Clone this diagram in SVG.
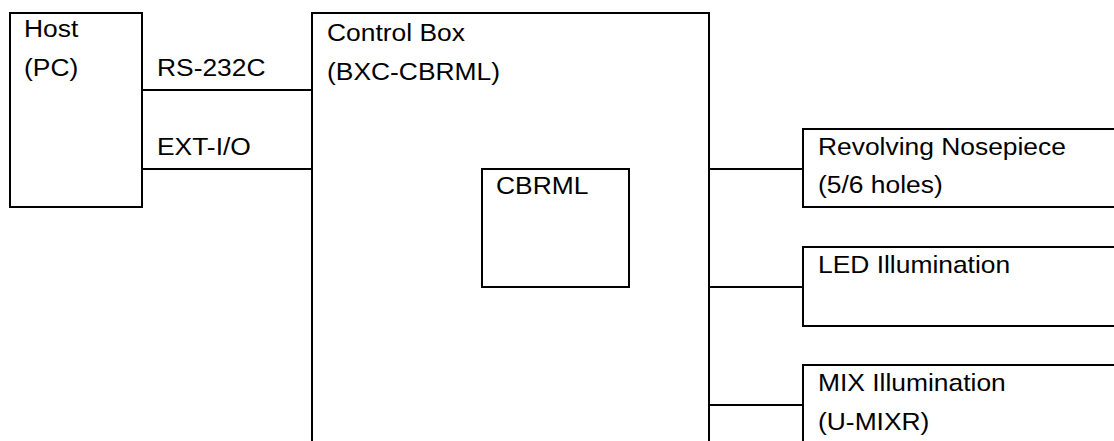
<svg xmlns="http://www.w3.org/2000/svg" width="1114" height="441" viewBox="0 0 1114 441">
  <style>
    .box { fill: #ffffff; stroke: #000000; stroke-width: 2; }
    .wire { fill: none; stroke: #000000; stroke-width: 2; }
    .lbl { font-family: "Liberation Sans", Arial, sans-serif; font-size: 24px; fill: #000000; }
  </style>
  <rect width="1114" height="441" fill="#ffffff"/>

  <g id="connectors">
    <line class="wire" x1="142" y1="90" x2="312" y2="90"/>
    <line class="wire" x1="142" y1="169" x2="312" y2="169"/>
    <line class="wire" x1="709" y1="169" x2="803" y2="169"/>
    <line class="wire" x1="709" y1="287" x2="803" y2="287"/>
    <line class="wire" x1="709" y1="405" x2="803" y2="405"/>
  </g>

  <!-- labels are drawn slightly wide: translate to the baseline, then stretch x -->
  <g id="host">
    <rect class="box" x="10" y="13" width="132" height="194"/>
    <text class="lbl" transform="translate(24,37) scale(1.1,1)">Host</text>
    <text class="lbl" transform="translate(24,76) scale(1.1,1)">(PC)</text>
  </g>

  <g id="link-labels">
    <text class="lbl" transform="translate(157,76) scale(1.1,1)">RS-232C</text>
    <text class="lbl" transform="translate(157,155) scale(1.1,1)">EXT-I/O</text>
  </g>

  <g id="control-box">
    <rect class="box" x="312" y="13" width="397" height="460"/>
    <text class="lbl" transform="translate(327,41) scale(1.1,1)">Control Box</text>
    <text class="lbl" transform="translate(327,80) scale(1.1,1)">(BXC-CBRML)</text>
  </g>

  <g id="cbrml">
    <rect class="box" x="482" y="169" width="147" height="118"/>
    <text class="lbl" transform="translate(496,194) scale(1.1,1)">CBRML</text>
  </g>

  <g id="nosepiece">
    <rect class="box" x="803" y="129" width="340" height="78"/>
    <text class="lbl" transform="translate(818,155) scale(1.1,1)">Revolving Nosepiece</text>
    <text class="lbl" transform="translate(818,193) scale(1.1,1)">(5/6 holes)</text>
  </g>

  <g id="led">
    <rect class="box" x="803" y="247" width="340" height="79"/>
    <text class="lbl" transform="translate(818,273) scale(1.1,1)">LED Illumination</text>
  </g>

  <g id="mix">
    <rect class="box" x="803" y="365" width="340" height="120"/>
    <text class="lbl" transform="translate(818,391) scale(1.1,1)">MIX Illumination</text>
    <text class="lbl" transform="translate(818,430) scale(1.1,1)">(U-MIXR)</text>
  </g>
</svg>
